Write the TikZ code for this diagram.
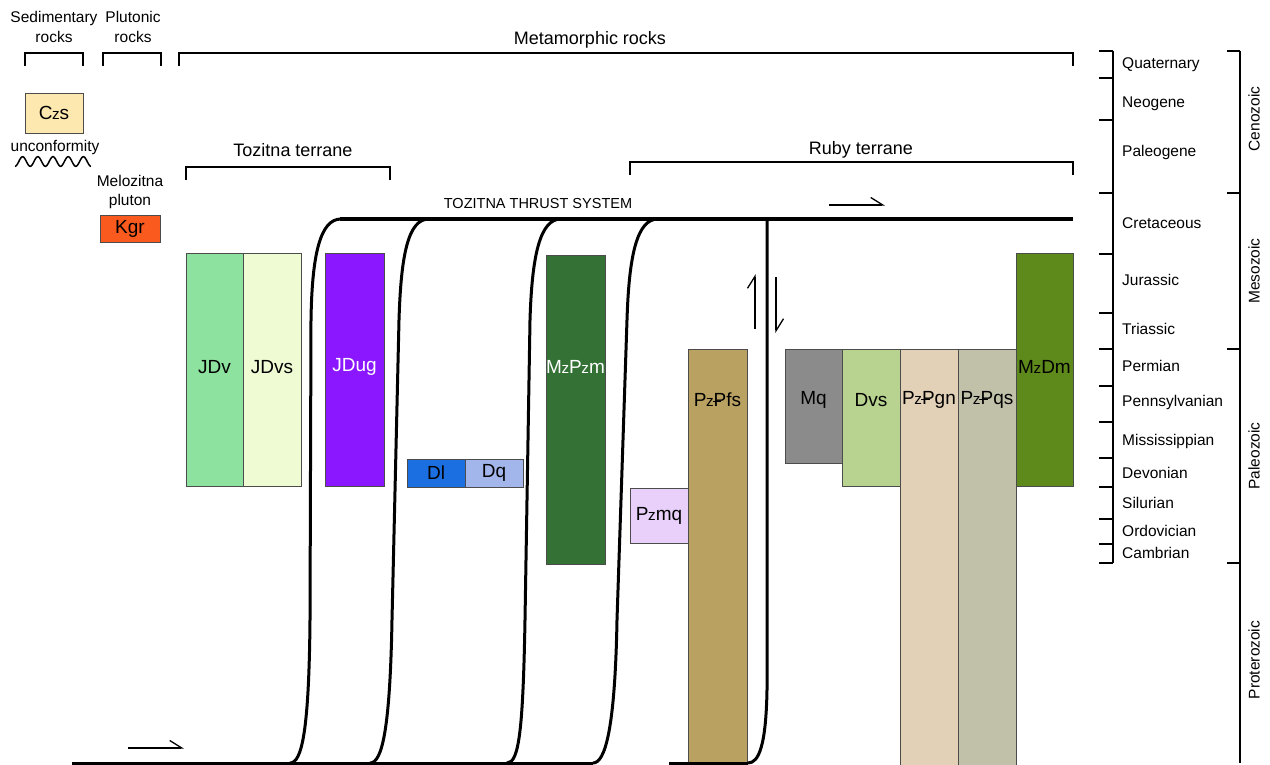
\documentclass[tikz,border=0pt]{standalone}
\usepackage{fontspec}
\setmainfont{Liberation Sans}
\usetikzlibrary{arrows.meta}
\definecolor{cCzs}{HTML}{FDE9B0}
\definecolor{cKgr}{HTML}{FA5A1E}
\definecolor{cJDv}{HTML}{8EE2A0}
\definecolor{cJDvs}{HTML}{EEFBD3}
\definecolor{cJDug}{HTML}{8A17FF}
\definecolor{cDl}{HTML}{1B6FE0}
\definecolor{cDq}{HTML}{A3B6EC}
\definecolor{cMzPzm}{HTML}{337135}
\definecolor{cPzmq}{HTML}{E8D0FA}
\definecolor{cPzPfs}{HTML}{B9A261}
\definecolor{cMq}{HTML}{8B8B8B}
\definecolor{cDvs}{HTML}{B8D28F}
\definecolor{cPzPgn}{HTML}{E2D1B6}
\definecolor{cPzPqs}{HTML}{C1C1AA}
\definecolor{cMzDm}{HTML}{5E8A1C}
\newcommand{\gz}[1]{#1\kern-.02em\scalebox{.8}{z}}
\newcommand{\pbar}{\makebox[0pt][l]{\kern-.06em\rule[.24em]{.46em}{.07em}}P}
\begin{document}
\begin{tikzpicture}[x=1pt,y=-1pt,
  every node/.style={font=\fontsize{15.5}{19.5}\selectfont,inner sep=0pt},
  big/.style={font=\fontsize{18}{20}\selectfont},
  ulabel/.style={font=\fontsize{19}{22}\selectfont},
  unit/.style={draw=black!70,line width=0.7pt},
  bracket/.style={line width=1.3pt},
  scaleline/.style={line width=1.5pt},
  fault/.style={line width=3pt,line join=round},
  slip/.style={line width=1.3pt,-{Straight Barb[left,length=12pt,width=15pt]}}]
\useasboundingbox (0,0) rectangle (1270,765);

% rock type headings
\node[align=center] (sedi) at (54,27) {Sedimentary\\rocks};
\draw[bracket] (25,66) -- (25,53) -- (83,53) -- (83,66);
\node[align=center] (pluto) at (133,27) {Plutonic\\rocks};
\draw[bracket] (103,66) -- (103,53) -- (161,53) -- (161,66);
\node[big] (meta) at (590,40) {Metamorphic rocks};
\draw[bracket] (179,66) -- (179,53) -- (1073,53) -- (1073,66);

% sedimentary and plutonic units
\draw[unit,fill=cCzs] (25,93) rectangle (83,133);
\node[ulabel] (Czs) at (54,113) {\gz{C}s};
\node (unconf) at (55,147) {unconformity};
\draw[line width=1.5pt,domain=15:91,samples=120] plot (\x,{161.5+4.8*cos((\x-15)/15.2*360)});
\node[align=center] (melo) at (130,192) {Melozitna\\pluton};
\draw[unit,fill=cKgr] (100,215) rectangle (160,242);
\node[ulabel] (Kgr) at (130,229) {Kgr};

% terranes
\node[big] (tozt) at (293,150) {Tozitna terrane};
\draw[bracket] (186,180) -- (186,167) -- (390,167) -- (390,180);
\node[big] (ruby) at (861,150) {Ruby terrane};
\draw[bracket] (630,175) -- (630,162) -- (1073,162) -- (1073,175);

% Tozitna units
\draw[unit,fill=cJDv] (186,253) rectangle (243,486);
\node[ulabel] (JDv) at (214.5,367) {JDv};
\draw[unit,fill=cJDvs] (243,253) rectangle (301,486);
\node[ulabel] (JDvs) at (272,367) {JDvs};
\draw[unit,fill=cJDug] (325,253) rectangle (384,486);
\node[ulabel,text=white] (JDug) at (354.5,367) {JDug};
\draw[unit,fill=cDl] (407,459) rectangle (465,487);
\node[ulabel] (Dl) at (436,473) {Dl};
\draw[unit,fill=cDq] (465,459) rectangle (523,487);
\node[ulabel] (Dq) at (494,473) {Dq};
\draw[unit,fill=cMzPzm] (546,255) rectangle (605,564);
\node[ulabel,text=white] (MzPzm) at (575.5,367) {\gz{M}\gz{P}m};

% Ruby units
\draw[unit,fill=cPzmq] (630,488) rectangle (688,543);
\node[ulabel] (Pzmq) at (659,516) {\gz{P}mq};
\draw[unit,fill=cPzPfs] (688,349) rectangle (747,765);
\node[ulabel] (PzPfs) at (717.5,400) {\gz{P}\pbar fs};
\draw[unit,fill=cMq] (785,349) rectangle (842,463);
\node[ulabel] (Mq) at (813.5,400) {Mq};
\draw[unit,fill=cDvs] (842,349) rectangle (900,486);
\node[ulabel] (Dvs) at (871,400) {Dvs};
\draw[unit,fill=cPzPgn] (900,349) rectangle (958,765);
\node[ulabel] (PzPgn) at (929,400) {\gz{P}\pbar gn};
\draw[unit,fill=cPzPqs] (958,349) rectangle (1016,765);
\node[ulabel] (PzPqs) at (987,400) {\gz{P}\pbar qs};
\draw[unit,fill=cMzDm] (1016,253) rectangle (1073,486);
\node[ulabel] (MzDm) at (1044.5,367) {\gz{M}Dm};

% thrust faults
\node[font=\fontsize{14.5}{16}\selectfont] (thrust) at (538,204) {TOZITNA THRUST SYSTEM};
\draw[fault] (340,219) -- (1073,219);
\draw[fault] (72,763) -- (593,763);
\draw[fault] (669,763) -- (748,763);
\draw[fault] (341,219) .. controls (320,219) and (312,255) .. (311,320) -- (310,620) .. controls (309,730) and (302,763) .. (290,763);
\draw[fault] (429,219) .. controls (408,219) and (401,255) .. (399,320) -- (392,620) .. controls (390,730) and (382,763) .. (370,763);
\draw[fault] (561,219) .. controls (540,219) and (532,255) .. (530,320) -- (525,620) .. controls (523,730) and (519,763) .. (507,763);
\draw[fault] (658,219) .. controls (637,219) and (629,255) .. (627,320) -- (617,620) .. controls (615,730) and (605,763) .. (593,763);
\draw[fault] (767,219) -- (767,690) .. controls (766,745) and (759,763) .. (748,763);
\draw[slip] (829,205) -- (885,205);
\draw[slip] (128,748) -- (184,748);
\draw[slip] (755,329) -- (755,274);
\draw[slip] (776,277) -- (776,333);

% geologic time scale
\draw[scaleline] (1113,51) -- (1113,563);
\draw[scaleline] (1099,51) -- (1113,51);
\draw[scaleline] (1099,78) -- (1113,78);
\draw[scaleline] (1099,120) -- (1113,120);
\draw[scaleline] (1099,193) -- (1113,193);
\draw[scaleline] (1099,254) -- (1113,254);
\draw[scaleline] (1099,313) -- (1113,313);
\draw[scaleline] (1099,349) -- (1113,349);
\draw[scaleline] (1099,386) -- (1113,386);
\draw[scaleline] (1099,422) -- (1113,422);
\draw[scaleline] (1099,458) -- (1113,458);
\draw[scaleline] (1099,487) -- (1113,487);
\draw[scaleline] (1099,519) -- (1113,519);
\draw[scaleline] (1099,544) -- (1113,544);
\draw[scaleline] (1099,563) -- (1113,563);
\node[anchor=west] (quat) at (1122,65) {Quaternary};
\node[anchor=west] (neog) at (1122,104) {Neogene};
\node[anchor=west] (paleog) at (1122,152) {Paleogene};
\node[anchor=west] (cret) at (1122,223) {Cretaceous};
\node[anchor=west] (jura) at (1122,280) {Jurassic};
\node[anchor=west] (tria) at (1122,329) {Triassic};
\node[anchor=west] (perm) at (1122,366) {Permian};
\node[anchor=west] (penn) at (1122,402) {Pennsylvanian};
\node[anchor=west] (miss) at (1122,441) {Mississippian};
\node[anchor=west] (devo) at (1122,473) {Devonian};
\node[anchor=west] (silu) at (1122,503) {Silurian};
\node[anchor=west] (ordo) at (1122,531) {Ordovician};
\node[anchor=west] (camb) at (1122,553) {Cambrian};

\draw[scaleline] (1240,51) -- (1240,763);
\draw[scaleline] (1227,51) -- (1240,51);
\draw[scaleline] (1227,193) -- (1240,193);
\draw[scaleline] (1227,349) -- (1240,349);
\draw[scaleline] (1227,563) -- (1240,563);
\node[rotate=90] (ceno) at (1254,119) {Cenozoic};
\node[rotate=90] (meso) at (1254,271) {Mesozoic};
\node[rotate=90] (paleo) at (1254,456) {Paleozoic};
\node[rotate=90] (prot) at (1254,660) {Proterozoic};
\end{tikzpicture}
\end{document}
